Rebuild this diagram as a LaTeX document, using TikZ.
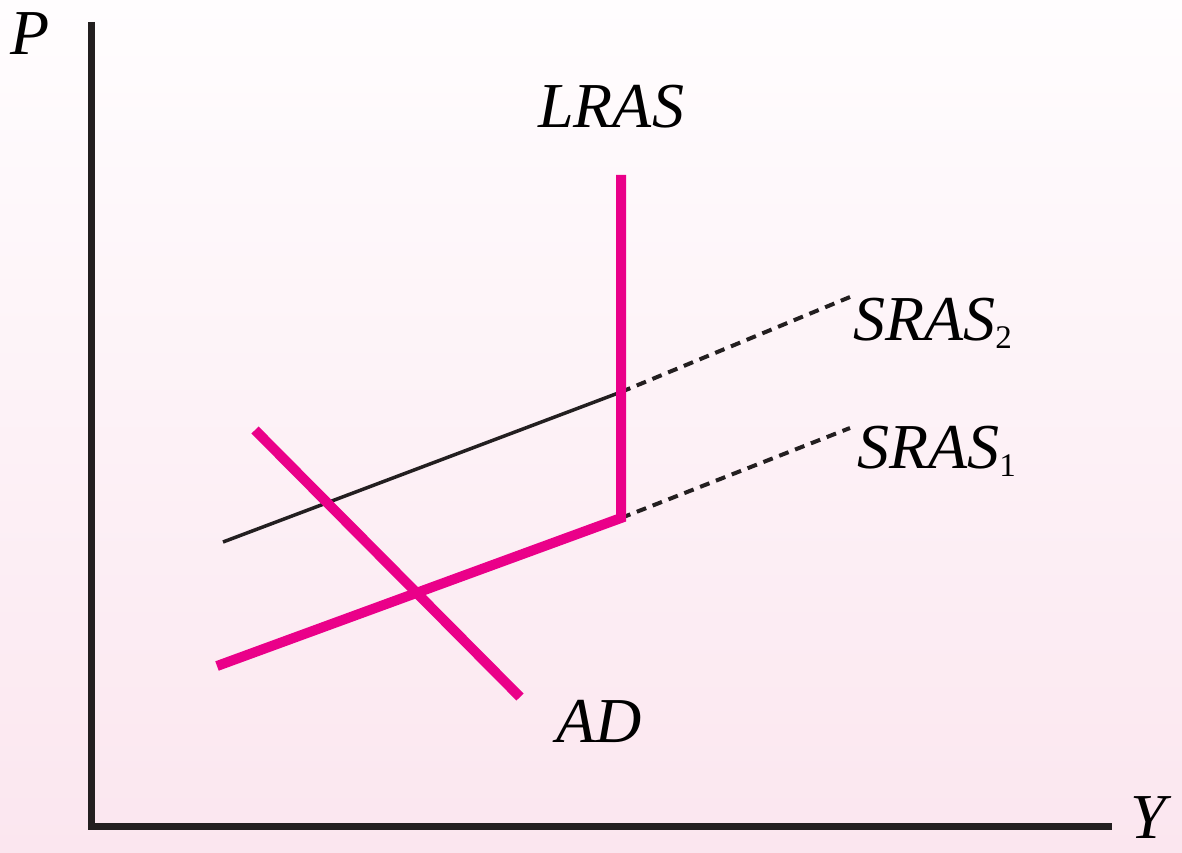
\documentclass[tikz,border=0pt]{standalone}
\usepackage{fontspec}
\setmainfont{Liberation Serif}
\definecolor{magentaline}{RGB}{234,0,137}
\definecolor{axisblack}{RGB}{35,31,32}
\definecolor{bgtop}{RGB}{255,253,254}
\definecolor{bgbottom}{RGB}{251,230,239}
\tikzset{
  axisline/.style={draw=axisblack,line width=7pt},
  thickcurve/.style={draw=magentaline,line width=10pt},
  thincurve/.style={draw=axisblack,line width=3.5pt},
  dashcurve/.style={draw=axisblack,line width=4pt,dash pattern=on 10pt off 7pt},
  lbl/.style={inner sep=0pt,anchor=base west,font=\fontsize{64}{72}\selectfont\itshape},
}
\newcommand{\subnum}[1]{\raisebox{-8pt}{\fontsize{33}{33}\selectfont\upshape #1}}
\begin{document}
\begin{tikzpicture}[x=1pt,y=-1pt]
\useasboundingbox (0,0) rectangle (1182,853);
\shade[top color=bgtop,bottom color=bgbottom] (0,0) rectangle (1182,853);
% coordinates
\coordinate (O) at (91,826);
\coordinate (Ptop) at (91,22);
\coordinate (Yend) at (1112,826);
\coordinate (Ltop) at (621,175);
\coordinate (Lbot) at (621,518);
\coordinate (S1a) at (217,666);
\coordinate (S1d) at (850,428);
\coordinate (S2a) at (223,542);
\coordinate (S2b) at (621,392);
\coordinate (S2d) at (850,297);
\coordinate (ADa) at (255,430);
\coordinate (ADb) at (520,697);
% axes
\draw[axisline] (Ptop) -- (O) -- (Yend);
% SRAS2
\draw[thincurve] (S2a) -- (S2b);
\draw[dashcurve] (S2b) -- (S2d);
% SRAS1 dashed
\draw[dashcurve] (Lbot) -- (S1d);
% AD
\draw[thickcurve] (ADa) -- (ADb);
% SRAS1 + LRAS
\draw[thickcurve,line join=miter] (S1a) -- (Lbot) -- (Ltop);
% labels
\node[lbl] (P) at (10,55) {P};
\node[lbl] (Y) at (1130,838) {Y};
\node[lbl] (LRAS) at (538,128) {LRAS};
\node[lbl] (AD) at (556,742) {AD};
\node[lbl] (SRAS2) at (853,340) {SRAS\subnum{2}};
\node[lbl] (SRAS1) at (857,468) {SRAS\subnum{1}};
\end{tikzpicture}
\end{document}
